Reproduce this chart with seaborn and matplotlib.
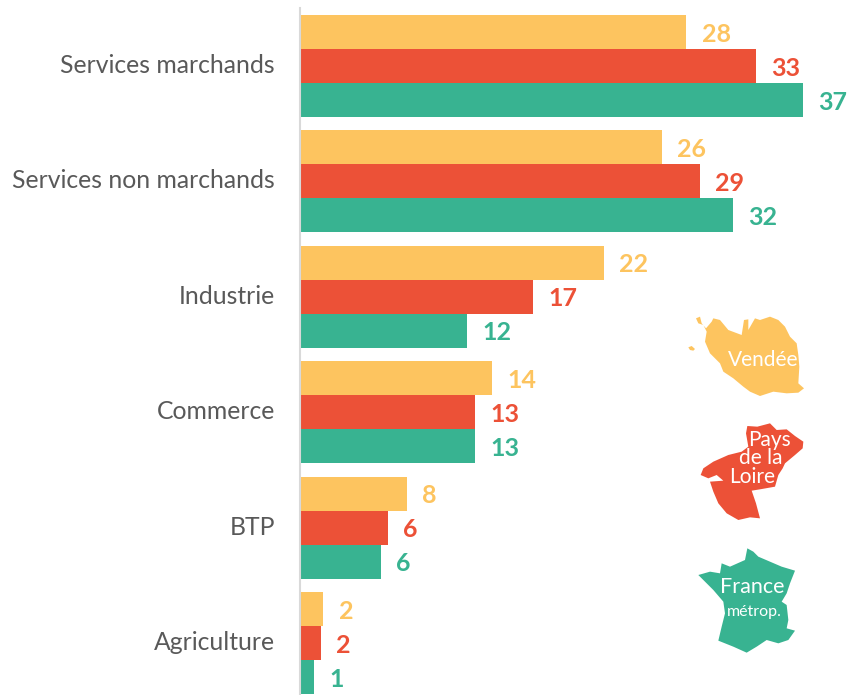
import matplotlib
matplotlib.use("Agg")
import matplotlib.pyplot as plt
import matplotlib.transforms as mtrans
import seaborn as sns
import pandas as pd
from matplotlib.patches import Polygon

sectors = ["Services marchands", "Services non marchands", "Industrie", "Commerce", "BTP", "Agriculture"]
zones = ["Vendée", "Pays de la Loire", "France métrop."]
vendee = [28.2, 26.4, 22.2, 14.0, 7.8, 1.7]
pays_loire = [33.3, 29.2, 17.0, 12.8, 6.4, 1.5]
france = [36.7, 31.6, 12.2, 12.8, 5.9, 1.0]
vendee_lab = [28, 26, 22, 14, 8, 2]
pays_loire_lab = [33, 29, 17, 13, 6, 2]
france_lab = [37, 32, 12, 13, 6, 1]
colors = ["#FDC45F", "#EC5137", "#38B391"]

# map outlines, traced on a 3x crop starting at pixel (670, 300)
vendee_map = [(78,55),(90,50),(95,70),(108,85),(125,65),(130,55),(150,60),(175,90),(215,105),(222,60),(235,58),(235,90),(255,55),(270,60),(300,50),(325,60),(345,80),(360,110),(380,130),(385,165),(388,200),(385,250),(402,265),(385,278),(350,280),(310,275),(270,288),(240,275),(220,260),(190,235),(160,215),(150,190),(120,160),(105,125),(110,95),(100,75),(85,70)]
vendee_isle = [(55,142),(65,138),(75,147),(70,152),(60,150)]
loire_map = [(232,378),(262,380),(300,370),(320,390),(350,388),(375,408),(400,425),(398,445),(375,465),(345,490),(338,505),(325,525),(315,560),(270,568),(245,572),(258,610),(270,655),(240,652),(205,660),(170,640),(145,610),(130,575),(120,545),(160,542),(140,525),(115,535),(92,525),(100,505),(130,485),(175,465),(215,455),(235,440),(228,400)]
france_map = [(232,745),(250,755),(265,770),(300,785),(335,800),(375,812),(360,850),(350,880),(335,905),(350,915),(355,960),(350,985),(375,992),(355,1020),(325,1030),(290,1020),(260,1040),(230,1058),(190,1040),(145,1022),(155,980),(165,940),(160,905),(130,870),(85,825),(120,815),(150,820),(155,790),(180,800),(225,780)]

df = pd.DataFrame({"sector": sectors, "Vendée": vendee, "Pays de la Loire": pays_loire, "France métrop.": france})
df = df.melt(id_vars="sector", var_name="zone", value_name="part")

sns.set_style("white")
plt.rcParams["font.family"] = ["Lato", "DejaVu Sans"]

W, H = 848, 695
fig = plt.figure(figsize=(W / 100, H / 100), dpi=100)
ax = fig.add_axes([300 / W, -5.7 / H, (W - 300) / W, 692.4 / H])
sns.barplot(data=df, y="sector", x="part", hue="zone", order=sectors, hue_order=zones,
            palette=colors, width=0.885, saturation=1, legend=False, ax=ax, gap=0, linewidth=0)
ax.set_xlim(0, (W - 300) / 13.7)
ax.set_ylim(5.5, -0.5)
ax.set_xlabel("")
ax.set_ylabel("")
ax.set_xticks([])
ax.tick_params(axis="y", left=False, length=0, pad=18, labelsize=17.8, labelcolor="#595959")
for lab in ax.get_yticklabels():
    lab.set_transform(lab.get_transform() + mtrans.ScaledTranslation(0, 1.8 / 72, fig.dpi_scale_trans))
for s in ["top", "right", "bottom"]:
    ax.spines[s].set_visible(False)
ax.spines["left"].set_color("#D9D9D9")
ax.spines["left"].set_linewidth(1.5)

labels = [vendee_lab, pays_loire_lab, france_lab]
for container, lab, c in zip(ax.containers, labels, colors):
    anns = ax.bar_label(container, labels=[str(v) for v in lab], padding=11, color=c,
                        fontsize=18, fontweight="bold")
    for a in anns:
        a.xyann = (a.xyann[0], a.xyann[1] - 1.5)

def px(p):
    return [((x / 3 + 670) / W, 1 - (y / 3 + 300) / H) for x, y in p]

shapes = [(vendee_map, colors[0]), (vendee_isle, colors[0]), (loire_map, colors[1]), (france_map, colors[2])]
for pts, c in shapes:
    fig.add_artist(Polygon(px(pts), closed=True, transform=fig.transFigure, facecolor=c, edgecolor="none"))

map_texts = [(763, 360, "Vendée", 15), (770, 440, "Pays", 15), (761, 458, "de la", 15), (752, 477, "Loire", 15),
             (752, 587, "France", 15.5), (754, 612, "métrop.", 11.5)]
for x, y, t, fs in map_texts:
    fig.text(x / W, 1 - y / H, t, color="white", fontsize=fs, ha="center", va="center")

fig.savefig("out.png", dpi=100)
